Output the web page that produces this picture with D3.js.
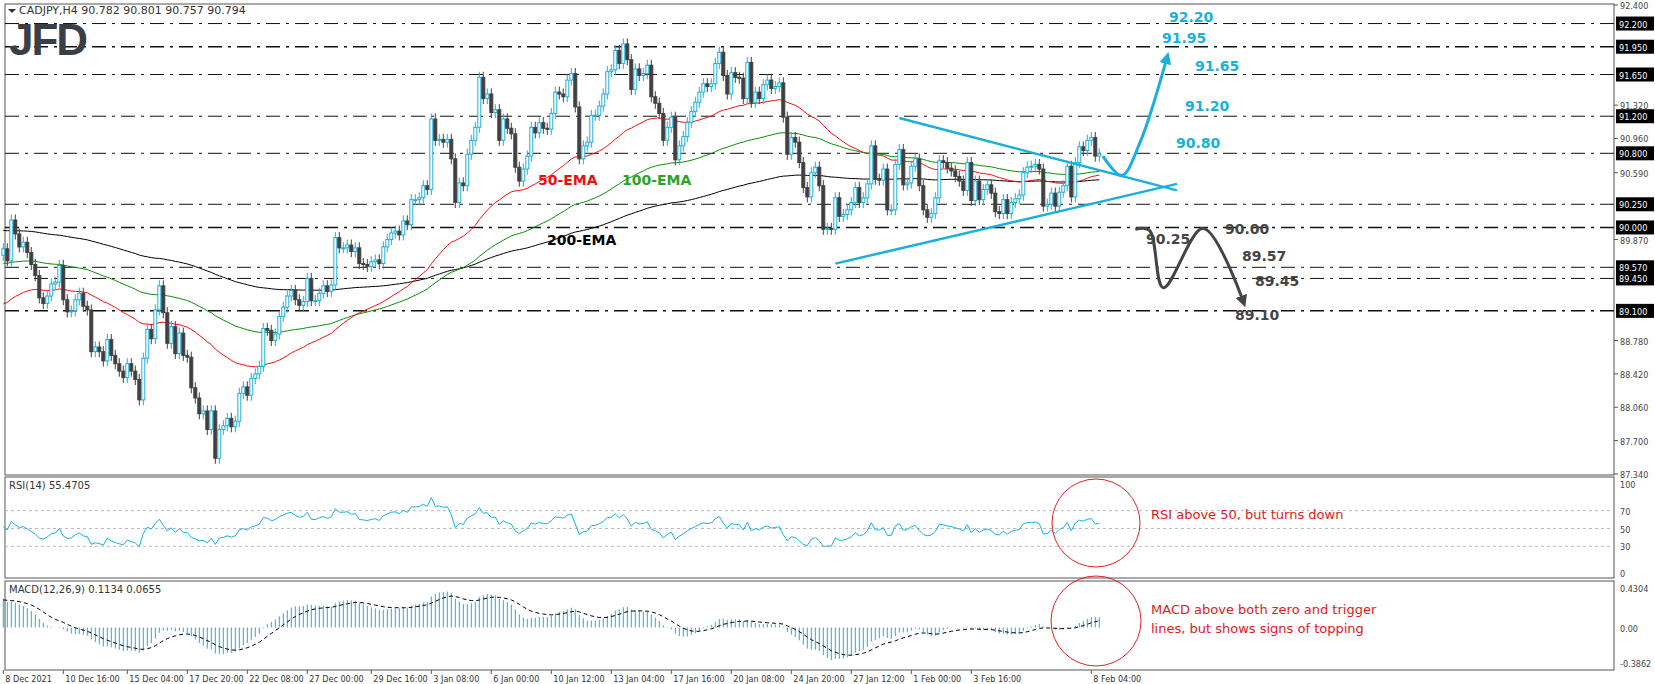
<!DOCTYPE html>
<html><head><meta charset="utf-8">
<script src="https://cdn.jsdelivr.net/npm/d3@7"></script>
<style>body{margin:0;background:#fff}svg{display:block;font-family:Tahoma,"DejaVu Sans",sans-serif}</style>
</head><body><svg id="c" width="1655" height="684"></svg>
<script>
// closes, one per H4 bar
const closes = [
89.77,89.64,90.08,89.93,89.79,89.84,89.73,89.60,89.48,89.24,
89.18,89.26,89.39,89.41,89.59,89.22,89.09,89.10,89.22,89.29,
89.15,89.11,88.66,88.71,88.66,88.56,88.79,88.62,88.53,88.45,
88.38,88.53,88.45,88.36,88.14,88.59,88.90,88.80,89.11,89.37,
89.08,88.75,88.93,88.64,88.86,88.62,88.60,88.27,88.16,87.99,
88.02,87.82,88.02,87.51,87.82,87.86,87.94,87.85,87.91,88.21,
88.28,88.19,88.37,88.42,88.50,88.91,88.89,88.78,88.85,89.04,
89.14,89.26,89.32,89.22,89.16,
89.20,89.45,89.21,89.21,89.29,89.37,89.31,89.38,89.89,89.78,
89.78,89.81,89.74,89.78,89.61,89.60,89.58,89.63,89.65,89.61,
89.79,89.87,89.94,89.96,89.92,90.07,90.03,90.30,90.30,90.32,
90.45,90.41,91.17,90.94,90.95,90.92,90.95,90.74,90.27,90.48,
90.45,90.79,90.94,91.08,91.62,91.39,91.44,91.24,91.27,90.94,
91.17,91.07,91.01,90.65,90.50,90.63,90.77,91.08,91.02,91.13,
91.07,91.06,91.23,91.46,91.44,91.41,91.59,91.66,91.30,90.74,
90.88,90.92,91.21,91.21,91.31,91.44,91.68,91.70,91.91,91.77,
91.98,91.81,91.49,91.71,91.64,91.66,91.75,91.41,91.34,91.23,
90.94,91.08,91.19,90.73,90.88,90.98,91.13,91.25,91.35,91.46,
91.55,91.52,91.55,91.77,91.89,91.64,91.44,91.67,91.62,91.61,
91.39,91.78,91.35,91.46,91.39,91.54,91.59,91.50,91.52,91.56,
91.19,90.79,90.97,90.92,90.70,90.43,90.33,90.59,90.65,90.45,
89.98,89.99,89.98,90.32,90.12,90.14,90.19,90.27,90.43,90.27,
90.32,90.47,90.88,90.52,90.51,90.63,90.19,90.19,90.68,90.84,
90.46,90.48,90.66,90.74,90.45,90.19,90.11,90.15,90.32,90.72,
90.70,90.64,90.61,90.55,90.50,90.40,90.70,90.29,90.50,90.30,
90.41,90.46,90.37,90.17,90.15,90.30,90.15,90.27,90.31,90.35,
90.59,90.65,90.66,90.68,90.63,90.23,90.25,90.37,90.23,90.38,
90.45,90.66,90.33,90.70,90.87,90.83,90.94,90.97,90.77,90.794];
const firstOpen = 89.70;
const emaSeeds = {50: 89.15, 100: 89.61, 200: 89.97};
const levels = [92.20, 91.95, 91.65, 91.20, 90.80, 90.25, 90.00, 89.57, 89.45, 89.10];
const priceTicks = [92.400, 92.040, 91.680, 91.320, 90.960, 90.590, 90.230, 89.870, 89.510, 89.150, 88.780, 88.420, 88.060, 87.700, 87.340];
const dateIdx = [0,15,31,46,61,76,92,107,122,137,152,167,182,197,212,227,242,272];
const dateLabels = ["8 Dec 2021","10 Dec 16:00","15 Dec 04:00","17 Dec 20:00","22 Dec 08:00","27 Dec 00:00","29 Dec 16:00","3 Jan 08:00","6 Jan 00:00","10 Jan 12:00","13 Jan 04:00","17 Jan 16:00","20 Jan 08:00","24 Jan 20:00","27 Jan 12:00","1 Feb 00:00","3 Feb 16:00","8 Feb 04:00"];
const upperTrend = [[224, 91.18], [293.4, 90.40]];
const lowerTrend = [[208, 89.61], [293.4, 90.47]];
const bullPath = [[274.9, 90.77], [279.6, 90.56], [284.2, 90.92], [290.9, 91.83]];
const bearPath = [[283, 89.98], [286.5, 89.97], [290, 89.35], [300, 89.99], [310, 89.2]];
const blueLabels = [["92.20", 1169, 22], ["91.95", 1162, 43], ["91.65", 1195, 71], ["91.20", 1185, 111], ["90.80", 1176, 148]];
const greyLabels = [["90.25", 1146, 244], ["90.00", 1225, 234], ["89.57", 1242, 261], ["89.45", 1255, 286], ["89.10", 1235, 320]];

const svg = d3.select("#c");
const L = 5, R = 1614;
const x = d3.scaleLinear().domain([0, closes.length - 1]).range([3.3, 3.3 + 4*(closes.length - 1)]);
const y = d3.scaleLinear().domain([87.34, 92.4]).range([474, 5]);
const yR = d3.scaleLinear().domain([0, 100]).range([573, 484]);
const yM = d3.scaleLinear().domain([-0.3862, 0.4304]).range([663, 588]);
const cyan = "#1ab0dc", dark = "#404040";
const axFont = "Tahoma,'DejaVu Sans Condensed',sans-serif";

// indicators
function ema(src, n, seed) { const k = 2/(n+1); let e = seed; return src.map(v => (e = v*k + e*(1-k))); }
const bars = closes.map((c, i) => {
  const o = i ? closes[i-1] : firstOpen;
  return {i, o, c, h: Math.max(o, c) + 0.06, l: Math.min(o, c) - 0.06};
});
const e50 = ema(closes, 50, emaSeeds[50]), e100 = ema(closes, 100, emaSeeds[100]), e200 = ema(closes, 200, emaSeeds[200]);
let ag = 0.08, al = 0.08;
const rsi = closes.map((c, i) => {
  const d = c - (i ? closes[i-1] : firstOpen);
  ag = (ag*13 + Math.max(d, 0))/14; al = (al*13 + Math.max(-d, 0))/14;
  return 100 - 100/(1 + ag/al);
});
const m12 = ema(closes, 12, 89.75), m26 = ema(closes, 26, 89.42);
const macd = m12.map((v, i) => v - m26[i]);
const sig = ema(macd, 9, 0.3);

// frames
svg.append("rect").attr("x", L).attr("y", 4).attr("width", R-L).attr("height", 471).attr("fill", "none").attr("stroke", "#555");
svg.append("rect").attr("x", L).attr("y", 477).attr("width", R-L).attr("height", 101).attr("fill", "none").attr("stroke", "#555");
svg.append("rect").attr("x", L).attr("y", 581).attr("width", R-L).attr("height", 89).attr("fill", "none").attr("stroke", "#555");

// price axis (ticks hidden where a level box sits)
const ax = svg.append("g").attr("font-size", 9).attr("font-family", axFont).attr("fill", "#444");
priceTicks.filter(t => levels.every(p => Math.abs(y(p) - y(t)) > 11)).forEach(t => {
  ax.append("line").attr("x1", R).attr("x2", R+4).attr("y1", y(t)).attr("y2", y(t)).attr("stroke", "#555");
  ax.append("text").attr("x", R+6).attr("y", y(t)+4).text(t.toFixed(3));
});
[100, 70, 50, 30, 0].forEach(t => {
  ax.append("text").attr("x", R+6).attr("y", yR(t)+4).text(t);
  if (t > 0 && t < 100) svg.append("line").attr("x1", L).attr("x2", R).attr("y1", yR(t)).attr("y2", yR(t)).attr("stroke", "#bbb").attr("stroke-dasharray", "3,3");
});
[[0.4304, "0.4304"], [0, "0.00"], [-0.3862, "-0.3862"]].forEach(([t, s]) => ax.append("text").attr("x", R+6).attr("y", yM(t)+4).text(s));

// level lines
levels.forEach(p => {
  svg.append("line").attr("x1", L).attr("x2", R).attr("y1", y(p)).attr("y2", y(p))
    .attr("stroke", "#111").attr("stroke-width", p === 90 || p === 91.95 || p === 89.1 ? 1.5 : 1).attr("stroke-dasharray", "14,6,3,6");
  svg.append("rect").attr("x", R+2).attr("y", y(p)-7).attr("width", 38).attr("height", 14).attr("fill", "#000");
  svg.append("text").attr("x", R+5).attr("y", y(p)+4).attr("font-size", 9).attr("font-family", axFont).attr("fill", "#fff").text(p.toFixed(3));
});

// EMAs
const ln = d3.line().x((d, i) => x(i)).y(d => y(d));
[[e200, "#000"], [e100, "#0a8a0a"], [e50, "#f01010"]].forEach(([s, c]) =>
  svg.append("path").attr("d", ln(s)).attr("fill", "none").attr("stroke", c).attr("stroke-width", 1));

// candles
const cg = svg.append("g").selectAll("g").data(bars).join("g");
cg.append("line").attr("x1", d => x(d.i)).attr("x2", d => x(d.i)).attr("y1", d => y(d.h)).attr("y2", d => y(d.l))
  .attr("stroke", d => d.c >= d.o ? cyan : dark);
cg.append("rect").attr("x", d => x(d.i) - 1.5).attr("width", 3)
  .attr("y", d => y(Math.max(d.o, d.c))).attr("height", d => Math.max(1, Math.abs(y(d.o) - y(d.c))))
  .attr("fill", d => d.c >= d.o ? "#fff" : dark).attr("stroke", d => d.c >= d.o ? cyan : dark).attr("stroke-width", 1);

// trend lines and scenario arrows
const pl = d3.line().x(d => x(d[0])).y(d => y(d[1]));
[upperTrend, lowerTrend].forEach(t => svg.append("path").attr("d", pl(t)).attr("stroke", cyan).attr("stroke-width", 2.5).attr("fill", "none"));
const defs = svg.append("defs");
[["ab", cyan], ["ad", "#444"]].forEach(([id, c]) => defs.append("marker").attr("id", id).attr("viewBox", "0 0 10 10").attr("refX", 5).attr("refY", 5)
  .attr("markerWidth", 4).attr("markerHeight", 4).attr("orient", "auto").append("path").attr("d", "M0,0L10,5L0,10z").attr("fill", c));
const cl = d3.line().x(d => x(d[0])).y(d => y(d[1])).curve(d3.curveCatmullRom);
svg.append("path").attr("d", cl(bullPath)).attr("stroke", cyan).attr("stroke-width", 3).attr("fill", "none").attr("marker-end", "url(#ab)");
svg.append("path").attr("d", cl(bearPath)).attr("stroke", "#444").attr("stroke-width", 3).attr("fill", "none").attr("marker-end", "url(#ad)");

const tf = "'DejaVu Sans',sans-serif";
blueLabels.forEach(([s, lx, ly]) => svg.append("text").attr("x", lx).attr("y", ly).attr("font-size", 14).attr("font-weight", "bold").attr("font-family", tf).attr("fill", cyan).text(s));
greyLabels.forEach(([s, lx, ly]) => svg.append("text").attr("x", lx).attr("y", ly).attr("font-size", 14).attr("font-weight", "bold").attr("font-family", tf).attr("fill", "#444").text(s));
[["50-EMA", "#f01010", 538, 185], ["100-EMA", "#2aa52a", 622, 185], ["200-EMA", "#000", 547, 245]].forEach(([s, c, lx, ly]) =>
  svg.append("text").attr("x", lx).attr("y", ly).attr("font-size", 14).attr("font-weight", "bold").attr("font-family", tf).attr("fill", c).text(s));

// header + logo
svg.append("path").attr("d", "M8,9L16,9L12,13z").attr("fill", "#333");
svg.append("text").attr("x", 19).attr("y", 14).attr("font-size", 11).attr("fill", "#333").text("CADJPY,H4  90.782 90.801 90.757 90.794");
svg.append("text").attr("x", 9).attr("y", 55).attr("font-size", 44).attr("font-weight", "bold").attr("font-family", "'Liberation Sans',sans-serif").attr("fill", "#3a3f47").attr("letter-spacing", -2).text("JFD");

// RSI
svg.append("path").attr("d", d3.line().x((d, i) => x(i)).y(d => yR(d))(rsi)).attr("fill", "none").attr("stroke", cyan);
svg.append("text").attr("x", 9).attr("y", 489).attr("font-size", 10).attr("fill", "#333").text("RSI(14) 55.4705");
svg.append("circle").attr("cx", 1096).attr("cy", 523).attr("r", 44).attr("fill", "none").attr("stroke", "#e02020");
svg.append("text").attr("x", 1151).attr("y", 519).attr("font-size", 13).attr("font-family", tf).attr("fill", "#e02020").text("RSI above 50, but turns down");

// MACD
svg.append("g").selectAll("line").data(macd).join("line").attr("x1", (d, i) => x(i)).attr("x2", (d, i) => x(i))
  .attr("y1", yM(0)).attr("y2", d => yM(d)).attr("stroke", cyan);
svg.append("path").attr("d", d3.line().x((d, i) => x(i)).y(d => yM(d))(sig)).attr("fill", "none").attr("stroke", "#000").attr("stroke-dasharray", "4,3");
svg.append("text").attr("x", 9).attr("y", 593).attr("font-size", 10).attr("fill", "#333").text("MACD(12,26,9) 0.1134 0.0655");
svg.append("circle").attr("cx", 1096).attr("cy", 621).attr("r", 45).attr("fill", "none").attr("stroke", "#e02020");
svg.append("text").attr("x", 1151).attr("y", 614).attr("font-size", 13).attr("font-family", tf).attr("fill", "#e02020").text("MACD above both zero and trigger");
svg.append("text").attr("x", 1151).attr("y", 633).attr("font-size", 13).attr("font-family", tf).attr("fill", "#e02020").text("lines, but shows signs of topping");

// dates
dateIdx.forEach((b, k) => {
  svg.append("line").attr("x1", x(b)).attr("x2", x(b)).attr("y1", 670).attr("y2", 674).attr("stroke", "#555");
  svg.append("text").attr("x", x(b) + 2).attr("y", 682).attr("font-size", 9).attr("font-family", axFont).attr("fill", "#333").text(dateLabels[k]);
});
</script></body></html>
